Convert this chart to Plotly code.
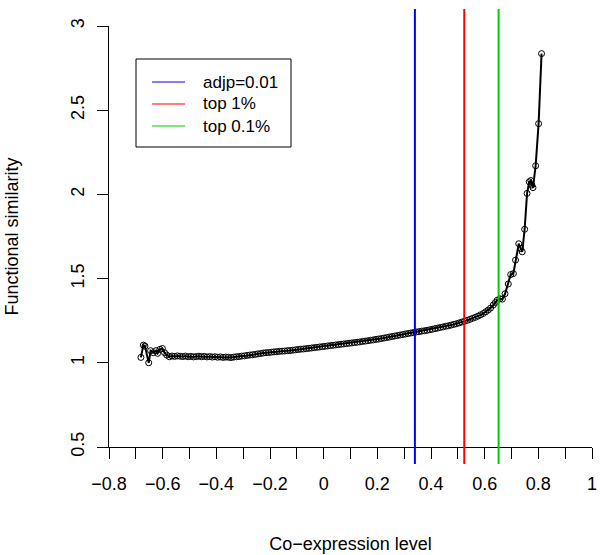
import plotly.graph_objects as go

# ---- data ----
coexpr = [
    -0.681, -0.672, -0.666, -0.652, -0.645, -0.635, -0.625, -0.619, -0.610, -0.601, -0.593, -0.585, -0.575,
    -0.565, -0.555, -0.545, -0.535, -0.525, -0.515, -0.505, -0.495, -0.485, -0.475, -0.465, -0.455, -0.445,
    -0.435, -0.425, -0.415, -0.405, -0.395, -0.385, -0.375, -0.365, -0.355, -0.345, -0.335, -0.325, -0.315,
    -0.305, -0.295, -0.285, -0.275, -0.265, -0.255, -0.245, -0.235, -0.225, -0.215, -0.205, -0.195, -0.185,
    -0.175, -0.165, -0.155, -0.145, -0.135, -0.125, -0.115, -0.105, -0.095, -0.085, -0.075, -0.065, -0.055,
    -0.045, -0.035, -0.025, -0.015, -0.005, 0.005, 0.015, 0.025, 0.035, 0.045, 0.055, 0.065, 0.075, 0.085,
    0.095, 0.105, 0.115, 0.125, 0.135, 0.145, 0.155, 0.165, 0.175, 0.185, 0.195, 0.205, 0.215, 0.225, 0.235,
    0.245, 0.255, 0.265, 0.275, 0.285, 0.295, 0.305, 0.315, 0.325, 0.335, 0.345, 0.355, 0.365, 0.375, 0.385,
    0.395, 0.405, 0.415, 0.425, 0.435, 0.445, 0.455, 0.465, 0.475, 0.485, 0.495, 0.505, 0.515, 0.525, 0.535,
    0.545, 0.555, 0.565, 0.575, 0.585, 0.595,
    0.604, 0.613, 0.622, 0.632, 0.640, 0.647, 0.657, 0.666, 0.676, 0.688, 0.697, 0.707, 0.715, 0.727, 0.734,
    0.740, 0.749, 0.758, 0.766, 0.772, 0.776, 0.780, 0.790, 0.801, 0.812,
]
func_sim = [
    1.032, 1.105, 1.099, 1.000, 1.072, 1.060, 1.072, 1.056, 1.080, 1.085, 1.060, 1.046, 1.036,
    1.040, 1.038, 1.041, 1.039, 1.037, 1.040, 1.036, 1.038, 1.035, 1.037, 1.039, 1.036, 1.038,
    1.035, 1.037, 1.034, 1.036, 1.033, 1.035, 1.032, 1.034, 1.033, 1.031, 1.034, 1.036, 1.037,
    1.040, 1.041, 1.044, 1.046, 1.048, 1.050, 1.053, 1.055, 1.058, 1.060, 1.061, 1.063, 1.065,
    1.066, 1.068, 1.069, 1.070, 1.072, 1.073, 1.075, 1.077, 1.079, 1.081, 1.082, 1.084, 1.086,
    1.088, 1.090, 1.092, 1.094, 1.096, 1.098, 1.100, 1.102, 1.104, 1.106, 1.108, 1.110, 1.112, 1.114,
    1.116, 1.118, 1.120, 1.122, 1.124, 1.127, 1.129, 1.131, 1.134, 1.136, 1.139, 1.141, 1.144, 1.147, 1.150,
    1.153, 1.156, 1.159, 1.162, 1.165, 1.168, 1.171, 1.174, 1.177, 1.180, 1.183, 1.185, 1.188, 1.190, 1.193,
    1.196, 1.199, 1.203, 1.206, 1.210, 1.213, 1.217, 1.220, 1.224, 1.228, 1.232, 1.237, 1.242, 1.247, 1.252,
    1.258, 1.264, 1.270, 1.277, 1.285, 1.293,
    1.303, 1.313, 1.325, 1.343, 1.358, 1.372, 1.380, 1.378, 1.410, 1.468, 1.524, 1.530, 1.610, 1.707, 1.679,
    1.659, 1.793, 2.006, 2.075, 2.082, 2.055, 2.040, 2.170, 2.420, 2.836,
]

threshold_names = ["adjp=0.01", "top 1%", "top 0.1%"]
threshold_values = [0.34, 0.524, 0.652]
threshold_colors = ["#0000FF", "#FF0000", "#00CD00"]

x_tick_values = [-0.8, -0.7, -0.6, -0.5, -0.4, -0.3, -0.2, -0.1, 0.0, 0.1, 0.2, 0.3, 0.4, 0.5, 0.6, 0.7, 0.8, 0.9, 1.0]
x_tick_labels = ["\u22120.8", "", "\u22120.6", "", "\u22120.4", "", "\u22120.2", "", "0", "", "0.2", "", "0.4", "", "0.6", "", "0.8", "", "1"]
y_tick_values = [0.5, 1.0, 1.5, 2.0, 2.5, 3.0]
y_tick_labels = ["0.5", "1", "1.5", "2", "2.5", "3"]

# ---- layout geometry (pixels) ----
W, H = 600, 555
ML, MR, MT, MB = 109, 8, 26, 108
PW, PH = W - ML - MR, H - MT - MB


def px_x(px):
    return (px - ML) / PW


def px_y(py):
    return (H - MB - py) / PH


FONT = "Liberation Sans, Arial, Helvetica, sans-serif"
AXFS = 18
LEGFS = 17

fig = go.Figure()
fig.add_trace(go.Scatter(
    x=coexpr, y=func_sim, mode="lines+markers",
    line=dict(color="black", width=2),
    marker=dict(symbol="circle-open", size=6, color="black", line=dict(width=1)),
    showlegend=False, cliponaxis=False,
))

shapes = []
for v, c in zip(threshold_values, threshold_colors):
    shapes.append(dict(type="line", xref="x", yref="paper", x0=v, x1=v,
                       y0=px_y(464), y1=px_y(9), line=dict(color=c, width=2)))

# legend box
shapes.append(dict(type="rect", xref="paper", yref="paper",
                   x0=px_x(136), x1=px_x(291), y0=px_y(147), y1=px_y(59),
                   line=dict(color="black", width=1), fillcolor="white"))
annotations = []
legend_rows = [82, 104, 126]
for name, c, py in zip(threshold_names, threshold_colors, legend_rows):
    shapes.append(dict(type="line", xref="paper", yref="paper",
                       x0=px_x(152), x1=px_x(185), y0=px_y(py), y1=px_y(py),
                       line=dict(color=c, width=1)))
    annotations.append(dict(text=name, xref="paper", yref="paper", x=px_x(201), y=px_y(py),
                            xanchor="left", yanchor="middle", showarrow=False,
                            font=dict(size=LEGFS, color="black", family=FONT)))

fig.update_layout(
    width=W, height=H,
    margin=dict(l=ML, r=MR, t=MT, b=MB, pad=0, autoexpand=False),
    paper_bgcolor="white", plot_bgcolor="white",
    font=dict(family=FONT, size=AXFS, color="black"),
    shapes=shapes, annotations=annotations,
    hovermode=False,
    xaxis=dict(
        range=[-0.8, 1.0], tickvals=x_tick_values, ticktext=x_tick_labels,
        showline=True, linecolor="black", linewidth=1, mirror=False, automargin=False,
        ticks="outside", ticklen=11, tickwidth=1, tickcolor="black",
        showgrid=False, zeroline=False, ticklabelstandoff=9,
        tickfont=dict(size=AXFS),
        title=dict(text="Co\u2212expression level", standoff=44, font=dict(size=AXFS)),
    ),
    yaxis=dict(
        range=[0.5, 3.0], tickvals=y_tick_values, ticktext=y_tick_labels, tickangle=-90,
        showline=True, linecolor="black", linewidth=1, mirror=False, automargin=False,
        ticks="outside", ticklen=11, tickwidth=1, tickcolor="black",
        showgrid=False, zeroline=False, ticklabelstandoff=6,
        tickfont=dict(size=AXFS),
        title=dict(text="Functional similarity", standoff=44, font=dict(size=AXFS)),
    ),
)

fig.write_html("out.html", config={"displayModeBar": False, "staticPlot": True},
               post_script="document.body.style.margin='0';")
